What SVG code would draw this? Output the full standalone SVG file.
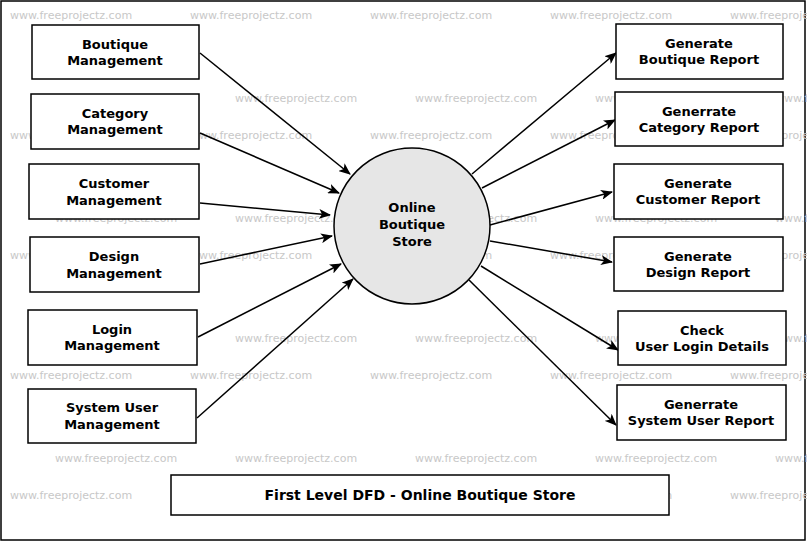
<svg xmlns="http://www.w3.org/2000/svg" width="807" height="542" viewBox="0 0 807 542">
<defs>
<style>
.wm{font-family:"DejaVu Sans",sans-serif;font-size:11px;fill:#c8c8c8}
.box{fill:#fff;stroke:#000;stroke-width:1.5}
.lbl{font-family:"DejaVu Sans",sans-serif;font-size:13px;font-weight:bold;fill:#000;text-anchor:middle}
.c{stroke:#000;stroke-width:1.5;fill:none;marker-end:url(#ah)}
</style>
<marker id="ah" viewBox="0 0 12 10" refX="11" refY="5" markerWidth="12" markerHeight="10" markerUnits="userSpaceOnUse" orient="auto">
<path d="M0,0 L12,5 L0,10 L3,5 Z" fill="#000"/>
</marker>
</defs>
<rect x="0" y="0" width="807" height="542" fill="#fff"/>
<rect x="1" y="1" width="804" height="539" fill="none" stroke="#000" stroke-width="1.5"/>
<g id="watermarks">
<text class="wm" x="10" y="19">www.freeprojectz.com</text><text class="wm" x="190" y="19">www.freeprojectz.com</text><text class="wm" x="370" y="19">www.freeprojectz.com</text><text class="wm" x="550" y="19">www.freeprojectz.com</text><text class="wm" x="730" y="19">www.freeprojectz.com</text>
<text class="wm" x="55" y="102">www.freeprojectz.com</text><text class="wm" x="235" y="102">www.freeprojectz.com</text><text class="wm" x="415" y="102">www.freeprojectz.com</text><text class="wm" x="595" y="102">www.freeprojectz.com</text><text class="wm" x="775" y="102">www.freeprojectz.com</text>
<text class="wm" x="10" y="139">www.freeprojectz.com</text><text class="wm" x="190" y="139">www.freeprojectz.com</text><text class="wm" x="370" y="139">www.freeprojectz.com</text><text class="wm" x="550" y="139">www.freeprojectz.com</text><text class="wm" x="730" y="139">www.freeprojectz.com</text>
<text class="wm" x="55" y="222">www.freeprojectz.com</text><text class="wm" x="235" y="222">www.freeprojectz.com</text><text class="wm" x="415" y="222">www.freeprojectz.com</text><text class="wm" x="595" y="222">www.freeprojectz.com</text><text class="wm" x="775" y="222">www.freeprojectz.com</text>
<text class="wm" x="10" y="259">www.freeprojectz.com</text><text class="wm" x="190" y="259">www.freeprojectz.com</text><text class="wm" x="370" y="259">www.freeprojectz.com</text><text class="wm" x="550" y="259">www.freeprojectz.com</text><text class="wm" x="730" y="259">www.freeprojectz.com</text>
<text class="wm" x="55" y="342">www.freeprojectz.com</text><text class="wm" x="235" y="342">www.freeprojectz.com</text><text class="wm" x="415" y="342">www.freeprojectz.com</text><text class="wm" x="595" y="342">www.freeprojectz.com</text><text class="wm" x="775" y="342">www.freeprojectz.com</text>
<text class="wm" x="10" y="379">www.freeprojectz.com</text><text class="wm" x="190" y="379">www.freeprojectz.com</text><text class="wm" x="370" y="379">www.freeprojectz.com</text><text class="wm" x="550" y="379">www.freeprojectz.com</text><text class="wm" x="730" y="379">www.freeprojectz.com</text>
<text class="wm" x="55" y="462">www.freeprojectz.com</text><text class="wm" x="235" y="462">www.freeprojectz.com</text><text class="wm" x="415" y="462">www.freeprojectz.com</text><text class="wm" x="595" y="462">www.freeprojectz.com</text><text class="wm" x="775" y="462">www.freeprojectz.com</text>
<text class="wm" x="10" y="499">www.freeprojectz.com</text><text class="wm" x="190" y="499">www.freeprojectz.com</text><text class="wm" x="370" y="499">www.freeprojectz.com</text><text class="wm" x="550" y="499">www.freeprojectz.com</text><text class="wm" x="730" y="499">www.freeprojectz.com</text>
</g>
<g id="connectors">
<line class="c" x1="200" y1="53" x2="350" y2="174"/>
<line class="c" x1="200" y1="133" x2="339" y2="193"/>
<line class="c" x1="200" y1="203" x2="330" y2="215"/>
<line class="c" x1="200" y1="264" x2="332" y2="236"/>
<line class="c" x1="198" y1="337" x2="341" y2="264"/>
<line class="c" x1="197" y1="418" x2="353" y2="279"/>
<line class="c" x1="472" y1="174" x2="616" y2="53"/>
<line class="c" x1="482" y1="188" x2="615" y2="120"/>
<line class="c" x1="490" y1="225" x2="612" y2="192"/>
<line class="c" x1="490" y1="241" x2="612" y2="262"/>
<line class="c" x1="481" y1="266" x2="618" y2="350"/>
<line class="c" x1="469" y1="280" x2="616" y2="425"/>
</g>
<g id="store"><circle cx="412" cy="226" r="78" fill="#e6e6e6" stroke="#000" stroke-width="1.5"/><text class="lbl" x="412" y="212">Online</text><text class="lbl" x="412" y="229">Boutique</text><text class="lbl" x="412" y="246">Store</text></g>
<g id="boutique"><rect class="box" x="32" y="25" width="167" height="54"/><text class="lbl" x="115" y="49">Boutique</text><text class="lbl" x="115" y="65">Management</text></g>
<g id="category"><rect class="box" x="31" y="94" width="168" height="55"/><text class="lbl" x="115" y="118">Category</text><text class="lbl" x="115" y="134">Management</text></g>
<g id="customer"><rect class="box" x="29" y="164" width="170" height="55"/><text class="lbl" x="114" y="188">Customer</text><text class="lbl" x="114" y="205">Management</text></g>
<g id="design"><rect class="box" x="30" y="237" width="169" height="55"/><text class="lbl" x="114" y="261">Design</text><text class="lbl" x="114" y="278">Management</text></g>
<g id="login"><rect class="box" x="28" y="310" width="169" height="55"/><text class="lbl" x="112" y="334">Login</text><text class="lbl" x="112" y="350">Management</text></g>
<g id="systemuser"><rect class="box" x="28" y="389" width="168" height="54"/><text class="lbl" x="112" y="412">System User</text><text class="lbl" x="112" y="429">Management</text></g>
<g id="rep_boutique"><rect class="box" x="616" y="24" width="167" height="55"/><text class="lbl" x="699" y="48">Generate</text><text class="lbl" x="699" y="64">Boutique Report</text></g>
<g id="rep_category"><rect class="box" x="615" y="92" width="168" height="54"/><text class="lbl" x="699" y="116">Generrate</text><text class="lbl" x="699" y="132">Category Report</text></g>
<g id="rep_customer"><rect class="box" x="614" y="164" width="169" height="55"/><text class="lbl" x="698" y="188">Generate</text><text class="lbl" x="698" y="204">Customer Report</text></g>
<g id="rep_design"><rect class="box" x="614" y="237" width="169" height="54"/><text class="lbl" x="698" y="261">Generate</text><text class="lbl" x="698" y="277">Design Report</text></g>
<g id="rep_login"><rect class="box" x="618" y="311" width="168" height="54"/><text class="lbl" x="702" y="335">Check</text><text class="lbl" x="702" y="351">User Login Details</text></g>
<g id="rep_systemuser"><rect class="box" x="617" y="385" width="169" height="55"/><text class="lbl" x="701" y="409">Generrate</text><text class="lbl" x="701" y="425">System User Report</text></g>
<g id="title"><rect class="box" x="171" y="475" width="498" height="40"/><text class="lbl" x="420" y="500" style="font-size:14px">First Level DFD - Online Boutique Store</text></g>
</svg>
